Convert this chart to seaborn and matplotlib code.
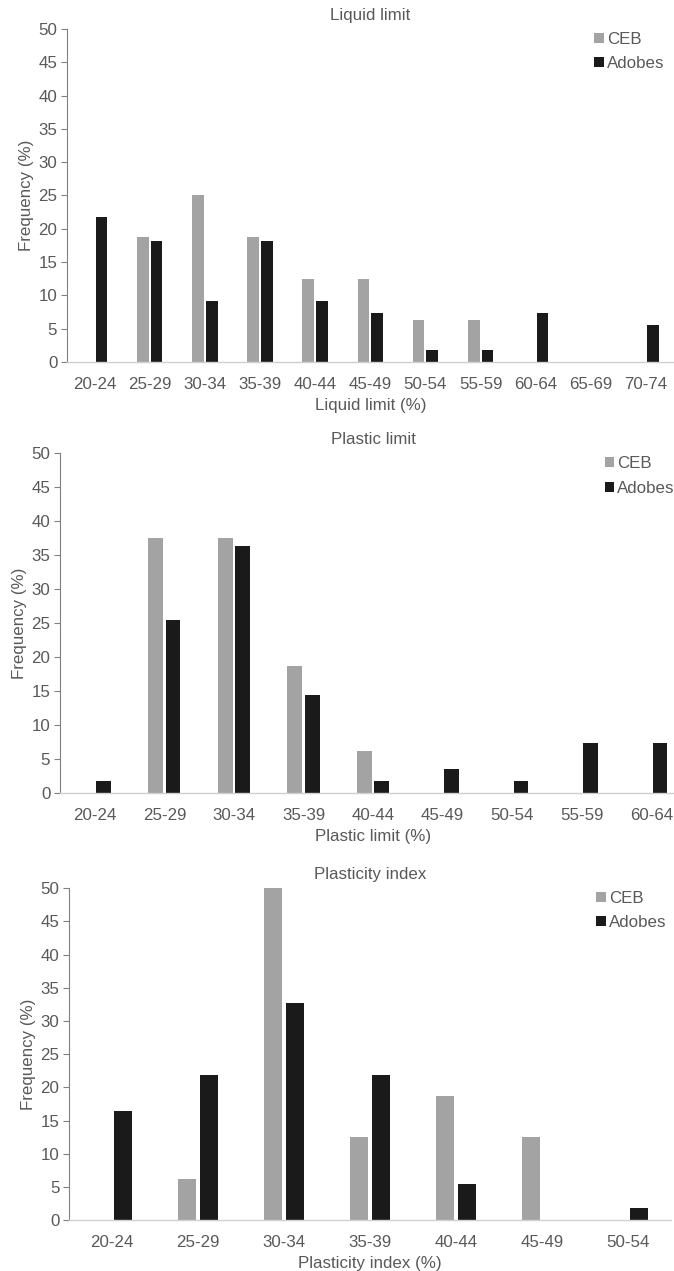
"""
CEB vs Adobes: Atterberg limits frequency histograms
"""
import pandas as pd
import matplotlib
import matplotlib.pyplot as plt
import seaborn as sns

# ── data ──
ll_bins = ["20-24", "25-29", "30-34", "35-39", "40-44", "45-49",
           "50-54", "55-59", "60-64", "65-69", "70-74"]
ll_ceb = [0, 18.75, 25, 18.75, 12.5, 12.5, 6.25, 6.25, 0, 0, 0]
ll_adobes = [21.8, 18.2, 9.1, 18.2, 9.1, 7.3, 1.8, 1.8, 7.3, 0, 5.5]

pl_bins = ["20-24", "25-29", "30-34", "35-39", "40-44", "45-49",
           "50-54", "55-59", "60-64"]
pl_ceb = [0, 37.5, 37.5, 18.75, 6.25, 0, 0, 0, 0]
pl_adobes = [1.8, 25.5, 36.4, 14.5, 1.8, 3.6, 1.8, 7.3, 7.3]

pi_bins = ["20-24", "25-29", "30-34", "35-39", "40-44", "45-49", "50-54"]
pi_ceb = [0, 6.25, 50, 12.5, 18.75, 12.5, 0]
pi_adobes = [16.4, 21.8, 32.7, 21.8, 5.5, 0, 1.8]

sns.set_style("white")
matplotlib.rcParams['font.family'] = ['Liberation Sans', 'DejaVu Sans']

TEXT = "#595959"
FS = 12.2
PALETTE = {"CEB": "#a3a3a3", "Adobes": "#1a1a1a"}


def long_form(bins, ceb, adobes):
    rows = []
    for b, c, a in zip(bins, ceb, adobes):
        rows.append({"bin": b, "type": "CEB", "freq": c})
        rows.append({"bin": b, "type": "Adobes", "freq": a})
    return pd.DataFrame(rows)


def draw_panel(fig, rect, bins, ceb, adobes, title, xlabel, leg_xy):
    ax = fig.add_axes(rect)
    df = long_form(bins, ceb, adobes)
    sns.barplot(data=df, x="bin", y="freq", hue="type", order=bins,
                hue_order=["CEB", "Adobes"], palette=PALETTE,
                width=0.5, gap=0.15, linewidth=0, ax=ax)
    ax.set_xlim(-0.5, len(bins) - 0.5)
    ax.set_ylim(0, 50)
    ax.set_yticks(range(0, 51, 5))
    ax.set_title(title, fontsize=FS, color=TEXT, pad=6.5)
    ax.set_xlabel(xlabel, fontsize=FS, color=TEXT, labelpad=4.5)
    ax.set_ylabel("Frequency (%)", fontsize=FS, color=TEXT, labelpad=3)
    ax.tick_params(axis="y", length=4, width=0.8, color="#808080",
                   labelsize=FS, labelcolor=TEXT, pad=3, direction="out", left=True)
    ax.tick_params(axis="x", length=0, labelsize=FS, labelcolor=TEXT, pad=10.5)
    for s in ["top", "right"]:
        ax.spines[s].set_visible(False)
    ax.spines["left"].set_color("#808080")
    ax.spines["left"].set_linewidth(0.8)
    ax.spines["bottom"].set_color("#d0d0d0")
    ax.spines["bottom"].set_linewidth(1.0)

    handles, labels = ax.get_legend_handles_labels()
    ax.legend(handles, labels, loc="upper left", bbox_to_anchor=leg_xy,
              bbox_transform=fig.transFigure, frameon=False, fontsize=FS,
              labelcolor=TEXT, handlelength=0.55, handleheight=0.55,
              handletextpad=0.2, labelspacing=0.55, borderaxespad=0,
              borderpad=0)
    return ax


fig = plt.figure(figsize=(6.74, 12.71), dpi=100)

draw_panel(fig, [0.0994, 0.7152, 0.900, 0.262], ll_bins, ll_ceb, ll_adobes,
           "Liquid limit", "Liquid limit (%)", (0.882, 0.975))
draw_panel(fig, [0.089, 0.376, 0.929, 0.2675], pl_bins, pl_ceb, pl_adobes,
           "Plastic limit", "Plastic limit (%)", (0.897, 0.641))
draw_panel(fig, [0.1024, 0.0401, 0.893, 0.261], pi_bins, pi_ceb, pi_adobes,
           "Plasticity index", "Plasticity index (%)", (0.885, 0.299))

plt.savefig("out.png", dpi=100)
plt.close()
